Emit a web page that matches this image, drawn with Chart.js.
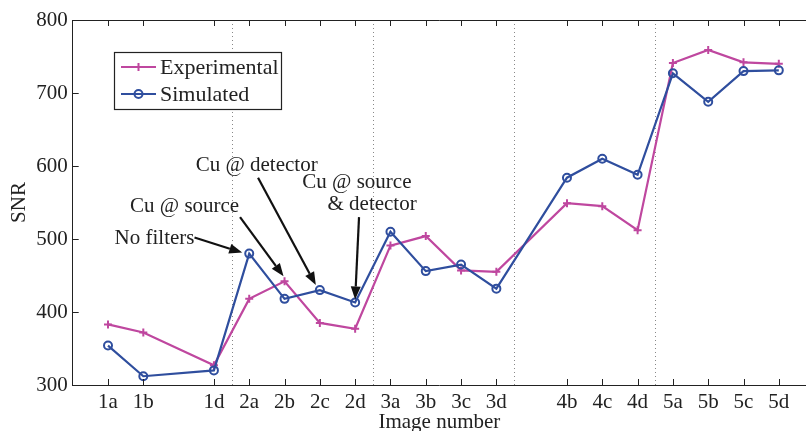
<!DOCTYPE html>
<html>
<head>
<meta charset="utf-8">
<script src="https://cdn.jsdelivr.net/npm/chart.js@4.4.1/dist/chart.umd.min.js"></script>
<style>
  html, body { margin: 0; padding: 0; background: #fff; }
  #wrap { width: 806px; height: 431px; position: relative; }
</style>
</head>
<body>
<div id="wrap"><canvas id="snr"></canvas></div>
<script>
const slots = ['1a', '1b', '1c', '1d', '2a', '2b', '2c', '2d', '3a', '3b', '3c', '3d',
               '4a', '4b', '4c', '4d', '5a', '5b', '5c', '5d'];
const experimental = [383, 372, null, 327, 418, 442, 385, 377, 491, 504, 457, 455,
                      null, 549, 545, 512, 741, 759, 742, 740];
const simulated = [354, 312, null, 320, 480, 418, 430, 413, 510, 456, 465, 432,
                   null, 584, 610, 588, 727, 688, 730, 731];
const yTicks = [300, 400, 500, 600, 700, 800];
const groupBreaks = [3.5, 7.5, 11.5, 15.5];

// labels with arrows: text at (x index, SNR), arrow from (ax, ay) to a data point
const notes = [
    { lines: ['No filters'], align: 'right', x: 2.45, y: 501, ax: 2.45, ay: 502, series: 'sim', at: 4, dx: -7, dy: -1 },
    { lines: ['Cu @ source'], x: 2.17, y: 544, ax: 3.74, ay: 530, series: 'exp', at: 5, dx: -1, dy: -5 },
    { lines: ['Cu @ detector'], x: 4.21, y: 601, ax: 4.25, ay: 584, series: 'sim', at: 6, dx: -4, dy: -5 },
    { lines: ['Cu @ source', '& detector'], x: 7.05, y: 577, x2: 7.48, y2: 547, ax: 7.11, ay: 530, series: 'sim', at: 7, dx: 0, dy: -3 }
];

const MAGENTA = '#bf479f';
const BLUE = '#2f4e9e';
const SERIF = '"Liberation Serif", "Times New Roman", serif';

const toPoints = vals => vals.map((v, i) => v === null ? null : { x: i, y: v }).filter(p => p);

const frame = {
    id: 'frame',
    beforeDatasetsDraw(chart) {
        const { ctx, chartArea: a, scales: { x } } = chart;
        ctx.save();
        ctx.strokeStyle = '#888';
        ctx.lineWidth = 1;
        ctx.setLineDash([1, 3]);
        groupBreaks.forEach(b => {
            const px = Math.round(x.getPixelForValue(b)) + 0.5;
            ctx.beginPath();
            ctx.moveTo(px, a.top);
            ctx.lineTo(px, a.bottom);
            ctx.stroke();
        });
        ctx.restore();
    },
    afterDatasetsDraw(chart) {
        const { ctx, chartArea: a, scales: { x, y } } = chart;
        ctx.save();
        ctx.strokeStyle = '#222';
        ctx.lineWidth = 1;
        // top border
        ctx.beginPath();
        ctx.moveTo(a.left, a.top + 0.5);
        ctx.lineTo(a.right, a.top + 0.5);
        ctx.stroke();
        // inward ticks
        ctx.beginPath();
        slots.forEach((s, i) => {
            if (experimental[i] === null) return;
            const px = Math.round(x.getPixelForValue(i)) + 0.5;
            ctx.moveTo(px, a.bottom);
            ctx.lineTo(px, a.bottom - 6);
            ctx.moveTo(px, a.top);
            ctx.lineTo(px, a.top + 6);
        });
        yTicks.forEach(t => {
            const py = Math.round(y.getPixelForValue(t)) + 0.5;
            ctx.moveTo(a.left, py);
            ctx.lineTo(a.left + 6, py);
        });
        ctx.stroke();

        // annotations
        ctx.font = '21px ' + SERIF;
        ctx.textBaseline = 'middle';
        notes.forEach(n => {
            ctx.fillStyle = '#222';
            ctx.textAlign = n.align || 'center';
            ctx.fillText(n.lines[0], x.getPixelForValue(n.x), y.getPixelForValue(n.y));
            if (n.lines[1]) ctx.fillText(n.lines[1], x.getPixelForValue(n.x2), y.getPixelForValue(n.y2));

            const vals = n.series === 'sim' ? simulated : experimental;
            const x0 = x.getPixelForValue(n.ax), y0 = y.getPixelForValue(n.ay);
            const x1 = x.getPixelForValue(n.at) + n.dx, y1 = y.getPixelForValue(vals[n.at]) + n.dy;
            const ang = Math.atan2(y1 - y0, x1 - x0);
            const len = 13, half = 5;
            const bx = x1 - len * Math.cos(ang), by = y1 - len * Math.sin(ang);
            ctx.strokeStyle = '#111';
            ctx.lineWidth = 2.2;
            ctx.beginPath();
            ctx.moveTo(x0, y0);
            ctx.lineTo(bx, by);
            ctx.stroke();
            ctx.fillStyle = '#111';
            ctx.beginPath();
            ctx.moveTo(x1, y1);
            ctx.lineTo(bx + half * Math.sin(ang), by - half * Math.cos(ang));
            ctx.lineTo(bx - half * Math.sin(ang), by + half * Math.cos(ang));
            ctx.closePath();
            ctx.fill();
        });

        // legend box
        const lx = 114, ly = 52, lw = 167, lh = 57;
        ctx.fillStyle = '#fff';
        ctx.fillRect(lx, ly, lw, lh);
        ctx.strokeStyle = '#222';
        ctx.lineWidth = 1.2;
        ctx.strokeRect(lx + 0.5, ly + 0.5, lw, lh);
        chart.data.datasets.forEach((ds, k) => {
            const yy = ly + 15 + k * 27;
            ctx.strokeStyle = ds.borderColor;
            ctx.lineWidth = 2;
            ctx.beginPath();
            ctx.moveTo(lx + 7, yy);
            ctx.lineTo(lx + 42, yy);
            ctx.stroke();
            const cx = lx + 24.5;
            ctx.beginPath();
            if (ds.pointStyle === 'circle') {
                ctx.arc(cx, yy, 4, 0, Math.PI * 2);
            } else {
                ctx.moveTo(cx - 4, yy); ctx.lineTo(cx + 4, yy);
                ctx.moveTo(cx, yy - 4); ctx.lineTo(cx, yy + 4);
            }
            ctx.stroke();
            ctx.fillStyle = '#222';
            ctx.textAlign = 'left';
            ctx.font = '22px ' + SERIF;
            ctx.fillText(ds.label, lx + 46, yy + 1);
        });
        ctx.restore();
    }
};

new Chart(document.getElementById('snr'), {
    type: 'line',
    data: {
        datasets: [{
            label: 'Experimental',
            data: toPoints(experimental),
            borderColor: MAGENTA,
            backgroundColor: MAGENTA,
            borderWidth: 2.2,
            pointStyle: 'cross',
            pointRadius: 4,
            pointBorderWidth: 2,
            order: 1
        }, {
            label: 'Simulated',
            data: toPoints(simulated),
            borderColor: BLUE,
            backgroundColor: 'rgba(0,0,0,0)',
            borderWidth: 2.2,
            pointStyle: 'circle',
            pointRadius: 4,
            pointBorderWidth: 2,
            order: 0
        }]
    },
    options: {
        responsive: true,
        maintainAspectRatio: false,
        animation: false,
        events: [],
        layout: { autoPadding: false, padding: { top: 20, right: 0, left: 0, bottom: 0 } },
        scales: {
            x: {
                type: 'linear',
                min: -1,
                max: 19.77,
                afterBuildTicks: scale => {
                    scale.ticks = slots.map((s, i) => ({ value: i })).filter(t => experimental[t.value] !== null);
                },
                afterFit: scale => {
                    scale.height = 46;
                    scale.paddingLeft = 0;
                    scale.paddingRight = 0;
                },
                grid: { display: false, drawTicks: false },
                border: { display: true, color: '#222', width: 1 },
                ticks: {
                    autoSkip: false,
                    maxRotation: 0,
                    padding: 5,
                    color: '#222',
                    font: { family: SERIF, size: 21 },
                    callback: value => slots[value] || ''
                },
                title: {
                    display: true,
                    text: 'Image number',
                    color: '#222',
                    font: { family: SERIF, size: 21 },
                    padding: { top: 0, bottom: -4 }
                }
            },
            y: {
                min: 300,
                max: 800,
                afterBuildTicks: scale => { scale.ticks = yTicks.map(v => ({ value: v })); },
                afterFit: scale => { scale.width = 72.7; },
                grid: { display: false, drawTicks: false },
                border: { display: true, color: '#222', width: 1 },
                ticks: {
                    padding: 5,
                    color: '#222',
                    font: { family: SERIF, size: 21 }
                },
                title: {
                    display: true,
                    text: 'SNR',
                    color: '#222',
                    font: { family: SERIF, size: 21 },
                    padding: { top: 7, bottom: 4 }
                }
            }
        },
        plugins: {
            legend: { display: false },
            tooltip: { enabled: false }
        }
    },
    plugins: [frame]
});
</script>
</body>
</html>
